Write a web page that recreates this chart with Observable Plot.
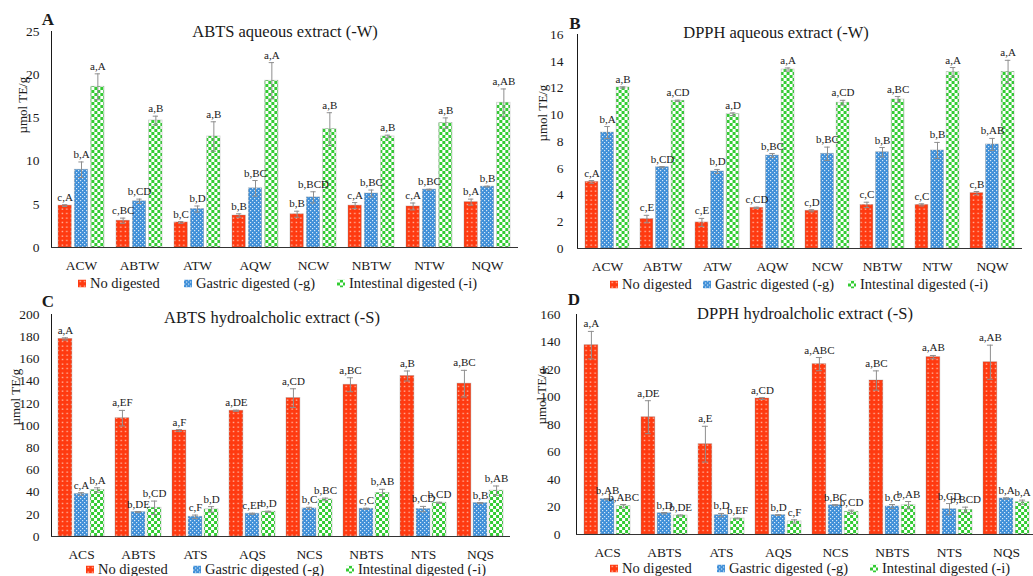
<!DOCTYPE html>
<html><head><meta charset="utf-8">
<script src="https://cdn.jsdelivr.net/npm/d3@7"></script>
<script src="https://cdn.jsdelivr.net/npm/@observablehq/plot@0.6"></script>
<style>
body{margin:0;background:#fff;overflow:hidden;}
#root{position:relative;width:1033px;height:576px;overflow:hidden;font-family:"Liberation Serif",serif;color:#1a1a1a;}
.panel{position:absolute;}
.letter{position:absolute;font-weight:bold;font-size:17px;transform:translate(-50%,-50%);}
.title{position:absolute;font-size:16.5px;transform:translate(-50%,-50%);white-space:nowrap;}
.li{position:absolute;font-size:14.5px;white-space:nowrap;display:flex;align-items:center;transform:translateY(-50%);}
.li svg{margin-right:4px;display:block;}
</style>
</head><body>
<svg width="0" height="0" style="position:absolute">
<defs>
<pattern id="pRed" patternUnits="userSpaceOnUse" width="4.5" height="4.5">
<rect width="4.5" height="4.5" fill="#ff3a10"/><rect x="1.5" y="1.5" width="1.4" height="1.2" fill="#ffd2c2"/>
</pattern>
<pattern id="pBlue" patternUnits="userSpaceOnUse" width="4" height="4">
<rect width="4" height="4" fill="#3f8fd8"/><rect x="0" y="0" width="1.2" height="1.2" fill="#d6e8f8"/><rect x="2" y="2" width="1.2" height="1.2" fill="#d6e8f8"/>
</pattern>
<pattern id="pGreen" patternUnits="userSpaceOnUse" width="6" height="6">
<rect width="6" height="6" fill="#33cc33"/><rect x="0" y="0" width="3" height="3" fill="#ffffff"/><rect x="3" y="3" width="3" height="3" fill="#ffffff"/>
</pattern>
</defs>
</svg>
<div id="root"></div>
<script>
// ---------- data ----------
const catsW = ["ACW","ABTW","ATW","AQW","NCW","NBTW","NTW","NQW"];
const catsS = ["ACS","ABTS","ATS","AQS","NCS","NBTS","NTS","NQS"];
const seriesNames = ["No digested","Gastric digested (-g)","Intestinal digested (-i)"];

const ticksA = [0,5,10,15,20,25];
const ticksB = [0,2,4,6,8,10,12,14,16];
const ticksC = [0,20,40,60,80,100,120,140,160,180,200];
const ticksD = [0,20,40,60,80,100,120,140,160];

// A: ABTS aqueous extract (-W)
const aNo = [4.85,3.1,2.9,3.7,3.85,4.85,4.75,5.25];
const aNoErr = [0.1,0.3,0.1,0.2,0.35,0.35,0.4,0.35];
const aNoLbl = ["c,A","c,BC","b,C","b,B","b,B","c,A","c,A","b,A"];
const aGas = [9.0,5.35,4.45,6.85,5.8,6.25,6.7,7.05];
const aGasErr = [0.9,0.25,0.35,0.9,0.65,0.4,0.05,0.05];
const aGasLbl = ["b,A","b,CD","b,D","b,BC","b,BCD","b,BC","b,BC","b,B"];
const aInt = [18.6,14.7,12.85,19.3,13.7,12.85,14.4,16.75];
const aIntErr = [1.5,0.5,1.7,2.1,1.9,0.15,0.6,1.6];
const aIntLbl = ["a,A","a,B","a,B","a,A","a,B","a,B","a,B","a,AB"];

// B: DPPH aqueous extract (-W)
const bNo = [4.98,2.2,1.95,3.04,2.82,3.26,3.26,4.14];
const bNoErr = [0.1,0.28,0.3,0.05,0.08,0.2,0.08,0.12];
const bNoLbl = ["c,A","c,E","c,E","c,CD","c,D","c,C","c,C","c,B"];
const bGas = [8.67,6.08,5.76,6.95,7.08,7.2,7.33,7.78];
const bGasErr = [0.45,0.05,0.15,0.15,0.5,0.35,0.6,0.45];
const bGasLbl = ["b,A","b,CD","b,D","b,BC","b,BC","b,B","b,B","b,AB"];
const bInt = [12.04,11.04,10.04,13.38,10.9,11.14,13.18,13.2];
const bIntErr = [0.05,0.05,0.1,0.12,0.18,0.22,0.35,0.87];
const bIntLbl = ["a,B","a,CD","a,D","a,A","a,CD","a,BC","a,A","a,A"];

// C: ABTS hydroalcholic extract (-S)
const cNo = [178,106.6,95.5,113.3,124.7,136.7,144.6,137.7];
const cNoErr = [1,7,0.8,0.5,8.4,6.3,4.5,12];
const cNoLbl = ["a,A","a,EF","a,F","a,DE","a,CD","a,BC","a,B","a,BC"];
const cGas = [38.3,22,17.8,20.5,25.3,25,24.7,30.1];
const cGasErr = [1.2,0.5,1.5,0.5,1,0.5,2.4,0.5];
const cGasLbl = ["c,A","b,DE","c,F","c,EF","b,C","c,C","b,CD","b,B"];
const cInt = [41.9,25.9,24.4,22.3,33.4,39.2,30.4,41.3];
const cIntErr = [2,6,2.5,0.5,1.2,3.3,0.5,4.2];
const cIntLbl = ["b,A","b,CD","b,D","b,D","b,BC","b,AB","b,CD","b,AB"];

// D: DPPH hydroalcholic extract (-S)
const dNo = [137.7,85.3,65.7,98.9,123.9,112,129,125.3];
const dNoErr = [10,12,13,0.7,4.8,7,1.2,12.4];
const dNoLbl = ["a,A","a,DE","a,E","a,CD","a,ABC","a,BC","a,AB","a,AB"];
const dGas = [25.7,15.5,14.1,14.1,21.3,20.4,18.4,26.2];
const dGasErr = [0.5,0.5,1.2,0.3,0.4,1.4,4.1,0.5];
const dGasLbl = ["b,AB","b,D","b,D","b,D","b,BC","b,C","b,CD","b,A"];
const dInt = [20.6,13.8,11.6,9.5,16.5,21.3,17.9,23.5];
const dIntErr = [1.2,0.4,0.3,1.2,1.2,2.7,2,1.5];
const dIntLbl = ["b,ABC","b,DE","b,EF","c,F","b,CD","b,AB","b,BCD","b,A"];

// ---------- drawing ----------
const fills = ["url(#pRed)","url(#pBlue)","url(#pGreen)"];
const root = document.getElementById("root");

function rowsFor(cats, vals, errs, lbls) {
  const rows = [];
  vals.forEach((arr, k) => arr.forEach((v, i) =>
    rows.push({cat: cats[i], k, value: v, err: errs[k][i], label: lbls[k][i]})));
  return rows;
}

function panel(cfg) {
  const {cats, vals, errs, lbls, domain, ticks, left, top, width, height, ml, mr, mt, mb, tp, labDx, labDy,
         letter, letterPos, title, titlePos, legendX, legendY} = cfg;
  const rows = rowsFor(cats, vals, errs, lbls);
  const step = (width - ml - mr) / cats.length;
  const bw = step * 0.8;
  const barW = bw * 0.3;
  const off = bw * 0.35;
  const inset = (bw - barW) / 2;
  const capInset = (bw - 6) / 2;
  const marks = [];
  for (let k = 0; k < 3; k++) {
    const data = rows.filter(d => d.k === k);
    const dx = (k - 1) * off;
    marks.push(Plot.barY(data, {x: "cat", y: "value", fill: fills[k], dx, insetLeft: inset, insetRight: inset,
      stroke: "#888", strokeOpacity: 0.4, strokeWidth: 0.8}));
  }
  for (let k = 0; k < 3; k++) {
    const data = rows.filter(d => d.k === k);
    const dx = (k - 1) * off;
    marks.push(Plot.ruleX(data, {x: "cat", y1: d => d.value - d.err, y2: d => d.value + d.err, dx, stroke: "#8f8f8f", strokeWidth: 1}));
    marks.push(Plot.tickY(data, {x: "cat", y: d => d.value + d.err, dx, insetLeft: capInset, insetRight: capInset, stroke: "#8f8f8f"}));
    marks.push(Plot.tickY(data, {x: "cat", y: d => d.value - d.err, dx, insetLeft: capInset, insetRight: capInset, stroke: "#8f8f8f"}));
    marks.push(Plot.text(data, {x: "cat", y: d => d.value + d.err, text: "label", dx, dy: -4, lineAnchor: "bottom", fontSize: 11, fill: "#1a1a1a"}));
  }
  marks.push(Plot.ruleY([0], {stroke: "#333"}));
  marks.push(Plot.text(["µmol TE/g"], {text: d => d, frameAnchor: "left", rotate: -90, dx: labDx, dy: labDy, fontSize: 13, fill: "#1a1a1a"}));

  const chart = Plot.plot({
    width, height, marginLeft: ml, marginRight: mr, marginTop: mt, marginBottom: mb,
    style: {fontFamily: "Liberation Serif, serif", fontSize: "13.5px", background: "transparent", overflow: "visible", maxWidth: "none", color: "#1a1a1a"},
    x: {domain: cats, paddingInner: 0.2, paddingOuter: 0.1, tickSize: 0, tickPadding: 13, label: null},
    y: {domain, ticks, tickSize: 0, tickPadding: tp, label: null, line: true},
    marks
  });
  const wrap = document.createElement("div");
  wrap.className = "panel";
  wrap.style.left = left + "px"; wrap.style.top = top + "px"; wrap.style.width = width + "px";
  wrap.appendChild(chart);
  root.appendChild(wrap);

  const L = document.createElement("div");
  L.className = "letter"; L.textContent = letter;
  L.style.left = letterPos[0] + "px"; L.style.top = letterPos[1] + "px";
  root.appendChild(L);
  const T = document.createElement("div");
  T.className = "title"; T.textContent = title;
  T.style.left = titlePos[0] + "px"; T.style.top = titlePos[1] + "px";
  root.appendChild(T);
  seriesNames.forEach((name, k) => {
    const it = document.createElement("div");
    it.className = "li";
    it.style.left = legendX[k] + "px"; it.style.top = legendY + "px";
    it.innerHTML = `<svg width="8" height="8"><rect width="8" height="8" fill="${fills[k]}"/></svg><span>${name}</span>`;
    root.appendChild(it);
  });
}

panel({cats: catsW, vals: [aNo, aGas, aInt], errs: [aNoErr, aGasErr, aIntErr], lbls: [aNoLbl, aGasLbl, aIntLbl],
  domain: [0, 25], ticks: ticksA, left: 0, top: 0, width: 520, height: 275, ml: 51, mr: 2, mt: 31, mb: 28, tp: 12,
  labDx: -29, labDy: -6, letter: "A", letterPos: [48, 20], title: "ABTS aqueous extract (-W)", titlePos: [285, 32],
  legendX: [78, 184, 337], legendY: 283});
panel({cats: catsW, vals: [bNo, bGas, bInt], errs: [bNoErr, bGasErr, bIntErr], lbls: [bNoLbl, bGasLbl, bIntLbl],
  domain: [0, 16], ticks: ticksB, left: 510, top: 0, width: 523, height: 275, ml: 67, mr: 11, mt: 34, mb: 27, tp: 14,
  labDx: -35, labDy: 0, letter: "B", letterPos: [575, 24], title: "DPPH aqueous extract (-W)", titlePos: [776, 33],
  legendX: [610, 703, 848], legendY: 284});
panel({cats: catsS, vals: [cNo, cGas, cInt], errs: [cNoErr, cGasErr, cIntErr], lbls: [cNoLbl, cGasLbl, cIntLbl],
  domain: [0, 200], ticks: ticksC, left: 0, top: 290, width: 520, height: 275, ml: 51, mr: 10, mt: 24, mb: 29, tp: 12,
  labDx: -36, labDy: 0, letter: "C", letterPos: [48, 302], title: "ABTS hydroalcholic extract (-S)", titlePos: [272, 318],
  legendX: [86, 193, 346], legendY: 569});
panel({cats: catsS, vals: [dNo, dGas, dInt], errs: [dNoErr, dGasErr, dIntErr], lbls: [dNoLbl, dGasLbl, dIntLbl],
  domain: [0, 160], ticks: ticksD, left: 510, top: 290, width: 530, height: 275, ml: 66, mr: 4, mt: 24, mb: 31, tp: 16,
  labDx: -35, labDy: 0, letter: "D", letterPos: [574, 300], title: "DPPH hydroalcholic extract (-S)", titlePos: [805, 314],
  legendX: [610, 717, 870], legendY: 568});
</script>
</body></html>
